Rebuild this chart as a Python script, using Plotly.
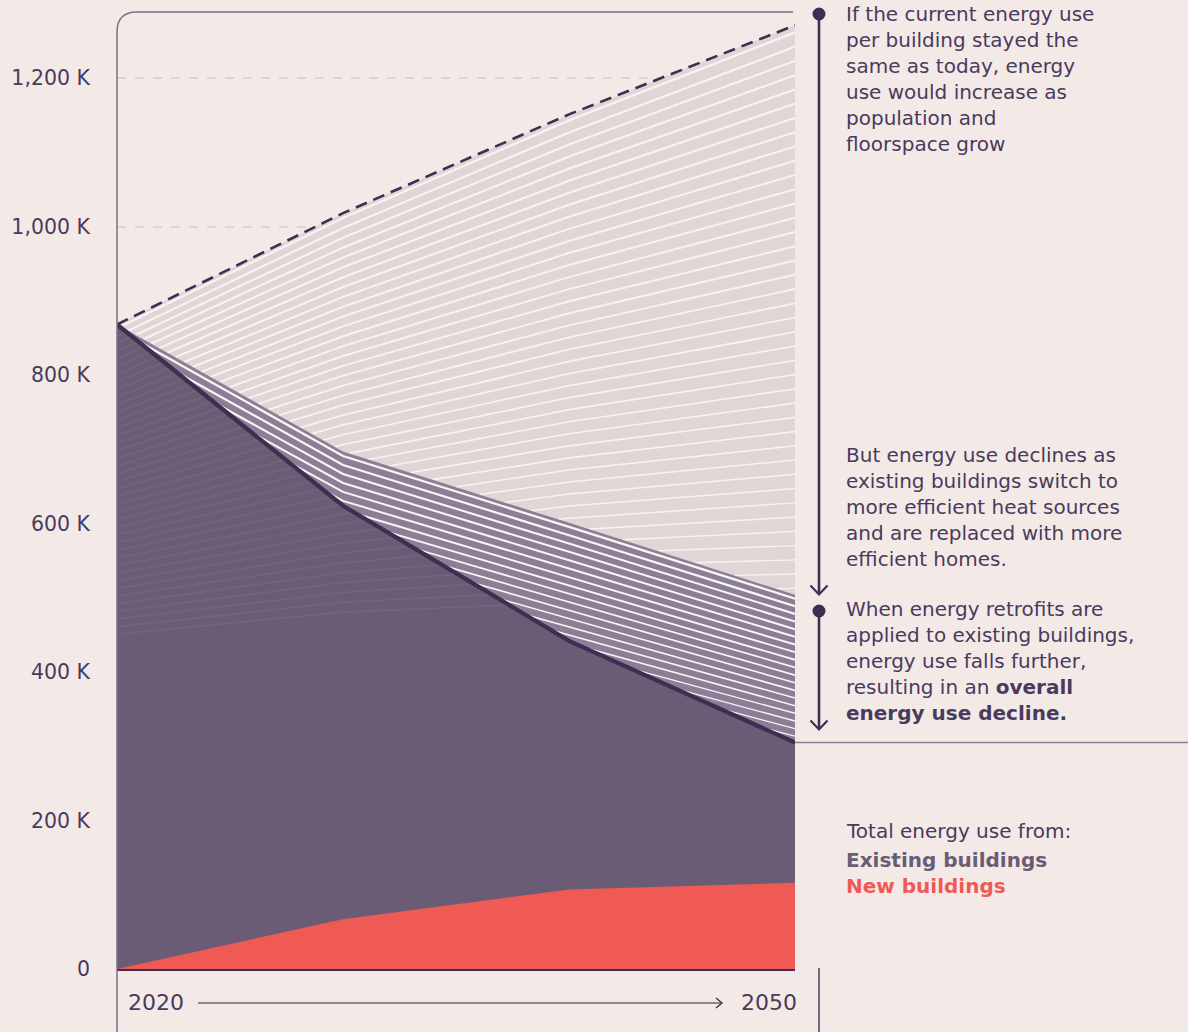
import plotly.graph_objects as go

# ---------------- data (thousands of energy units) ----------------
years = [2020, 2030, 2040, 2050]
bau = [868, 1018, 1151, 1271]            # current energy use per building kept
no_retrofit = [868, 697, 601, 504]       # efficient heat + replacement
total = [868, 624, 442, 305]             # with retrofits (overall)
new_buildings = [0, 67, 107, 116]        # new buildings share

ytick_vals = [0, 200, 400, 600, 800, 1000, 1200]
ytick_text = ["0", "200 K", "400 K", "600 K", "800 K", "1,000 K", "1,200 K"]

# ---------------- style ----------------
BG = "#f3eae8"
LIGHT = "#e0d6d5"
BAND = "#8a7f96"
DARK = "#6a5c74"
RED = "#f05a55"
INK = "#3f2d52"
TXT = "#4a3a5c"
FONT = "DejaVu Sans"

# pixel frame of the plot area
L_PX, R_PX, T_PX, B_PX = 117, 795, 12, 969
W, H = 1188, 1032
PLOT_W = R_PX - L_PX
PLOT_H = B_PX - T_PX
Y_MAX = PLOT_H / 0.7425


def px_x(px):
    return (px - L_PX) / PLOT_W


def px_y(py):
    return (B_PX - py) / PLOT_H


def lerp_years(a, b):
    return [a + (b - a) * (t - years[0]) / (years[-1] - years[0]) for t in years]


def clip(line, bound, keep_above):
    """Portions of a piecewise-linear line above/below a piecewise-linear bound."""
    xs_out, ys_out, cur = [], [], []

    def flush():
        if len(cur) >= 2:
            xs_out.extend([p[0] for p in cur] + [None])
            ys_out.extend([p[1] for p in cur] + [None])

    for i in range(len(years) - 1):
        x0, x1 = years[i], years[i + 1]
        y0, y1 = line[i], line[i + 1]
        d0, d1 = line[i] - bound[i], line[i + 1] - bound[i + 1]
        if not keep_above:
            d0, d1 = -d0, -d1
        pts = None
        if d0 >= 0 and d1 >= 0:
            pts = [(x0, y0), (x1, y1)]
        elif d0 >= 0 > d1:
            f = d0 / (d0 - d1)
            pts = [(x0, y0), (x0 + f * (x1 - x0), y0 + f * (y1 - y0))]
        elif d0 < 0 <= d1:
            f = d0 / (d0 - d1)
            pts = [(x0 + f * (x1 - x0), y0 + f * (y1 - y0)), (x1, y1)]
        if pts:
            if cur and abs(cur[-1][0] - pts[0][0]) < 1e-9:
                cur.append(pts[1])
            else:
                flush()
                cur = list(pts)
        else:
            flush()
            cur = []
    flush()
    return xs_out, ys_out


fig = go.Figure()

# light region between BAU and the no-retrofit path
fig.add_trace(go.Scatter(
    x=years + years[::-1], y=bau + no_retrofit[::-1], fill="toself",
    fillcolor=LIGHT, line=dict(width=0), mode="lines", hoverinfo="skip"))

# hatch family following the BAU line
N_LIGHT = 41
spacing = lerp_years(10.3, 19.2)
family = []
for k in range(1, N_LIGHT + 1):
    fam = [b - (k - 0.5) * s for b, s in zip(bau, spacing)]
    family.append(fam)
    xs, ys = clip(fam, no_retrofit, True)
    if xs:
        fig.add_trace(go.Scatter(
            x=xs, y=ys, mode="lines", hoverinfo="skip",
            line=dict(color="#f8f2f1", width=2.3 - 1.0 * k / N_LIGHT)))

# band between no-retrofit and total
fig.add_trace(go.Scatter(
    x=years + years[::-1], y=no_retrofit + total[::-1], fill="toself",
    fillcolor=BAND, line=dict(width=0), mode="lines", hoverinfo="skip"))

N_BAND = 20
band_spacing = lerp_years(13.0, 10.3)
for j in range(1, N_BAND + 1):
    bl = [n - (j - 0.5) * s for n, s in zip(no_retrofit, band_spacing)]
    xs, ys = clip(bl, total, True)
    if xs:
        fig.add_trace(go.Scatter(
            x=xs, y=ys, mode="lines", hoverinfo="skip",
            line=dict(color="#fbf6f4", width=2.3 - 1.1 * j / N_BAND)))

# existing buildings (total down to zero)
fig.add_trace(go.Scatter(
    x=years + years[::-1], y=total + [0] * len(years), fill="toself",
    fillcolor=DARK, line=dict(width=0), mode="lines", hoverinfo="skip"))

for fam in family:
    xs, ys = clip(fam, total, False)
    if xs:
        fig.add_trace(go.Scatter(
            x=xs, y=ys, mode="lines", hoverinfo="skip",
            line=dict(color="rgba(255,255,255,0.05)", width=1.6)))

# new buildings
fig.add_trace(go.Scatter(
    x=years, y=new_buildings, fill="tozeroy", fillcolor=RED,
    line=dict(width=0, color=RED), mode="lines", hoverinfo="skip"))

# total line
fig.add_trace(go.Scatter(
    x=years, y=total, mode="lines", hoverinfo="skip",
    line=dict(color=INK, width=4.2)))

# BAU dashed line
fig.add_trace(go.Scatter(
    x=years, y=bau, mode="lines", hoverinfo="skip",
    line=dict(color=INK, width=2.6, dash="12px,7px")))

# ---------------- shapes ----------------
shapes = []
frame_path = (f"M {px_x(117)},{px_y(1032)} L {px_x(117)},{px_y(32)} "
              f"Q {px_x(117)},{px_y(12)} {px_x(137)},{px_y(12)} L {px_x(793)},{px_y(12)}")
shapes.append(dict(type="path", xref="paper", yref="paper", path=frame_path,
                   line=dict(color="#7d6f8a", width=1.5), layer="above"))

AX = px_x(819)
# arrow 1
shapes.append(dict(type="line", xref="paper", yref="paper",
                   x0=AX, x1=AX, y0=px_y(14), y1=px_y(594),
                   line=dict(color=INK, width=2.6), layer="above"))
shapes.append(dict(type="path", xref="paper", yref="paper",
                   path=f"M {px_x(810.5)},{px_y(585.5)} L {AX},{px_y(594.5)} L {px_x(827.5)},{px_y(585.5)}",
                   line=dict(color=INK, width=2.2), layer="above"))
# arrow 2
shapes.append(dict(type="line", xref="paper", yref="paper",
                   x0=AX, x1=AX, y0=px_y(611), y1=px_y(729),
                   line=dict(color=INK, width=2.6), layer="above"))
shapes.append(dict(type="path", xref="paper", yref="paper",
                   path=f"M {px_x(810.5)},{px_y(720.5)} L {AX},{px_y(729.5)} L {px_x(827.5)},{px_y(720.5)}",
                   line=dict(color=INK, width=2.2), layer="above"))
# dots
for cy in (14, 611):
    shapes.append(dict(type="circle", xref="paper", yref="paper",
                       xsizemode="pixel", ysizemode="pixel",
                       xanchor=AX, yanchor=px_y(cy), x0=-6.5, x1=6.5, y0=-6.5, y1=6.5,
                       fillcolor=INK, line=dict(width=0), layer="above"))

# horizontal line at end value of the total path
shapes.append(dict(type="line", xref="paper", yref="y",
                   x0=1.0, x1=px_x(1188), y0=total[-1], y1=total[-1],
                   line=dict(color="#8a7f96", width=1.5), layer="above"))
# vertical line at bottom right of the axis
shapes.append(dict(type="line", xref="paper", yref="paper",
                   x0=AX, x1=AX, y0=px_y(968), y1=px_y(1032),
                   line=dict(color=TXT, width=1.5), layer="above"))
# time arrow
shapes.append(dict(type="line", xref="paper", yref="paper",
                   x0=px_x(198), x1=px_x(721), y0=px_y(1003), y1=px_y(1003),
                   line=dict(color="#6b666d", width=1.6), layer="above"))
shapes.append(dict(type="path", xref="paper", yref="paper",
                   path=f"M {px_x(716)},{px_y(998)} L {px_x(722)},{px_y(1003)} L {px_x(716)},{px_y(1008)}",
                   line=dict(color="#3a3540", width=1.4), layer="above"))

# ---------------- text ----------------
annotations = []
SIZE = 20
STEP = 1.3 * SIZE


def add_block(lines, first_center, color=TXT):
    first_center -= 0.3 * (len(lines) - 1)
    center = first_center + (len(lines) - 1) * STEP / 2
    annotations.append(dict(
        text="<br>".join(lines), xref="paper", yref="paper",
        x=px_x(845), y=px_y(center), xanchor="left", yanchor="middle",
        showarrow=False, align="left", borderpad=0,
        font=dict(family=FONT, size=SIZE, color=color)))


add_block(["If the current energy use", "per building stayed the", "same as today, energy",
           "use would increase as", "population and", "floorspace grow"], 15)
add_block(["But energy use declines as", "existing buildings switch to",
           "more efficient heat sources", "and are replaced with more", "efficient homes."], 456)
add_block(["When energy retrofits are", "applied to existing buildings,",
           "energy use falls further,", "resulting in an <b>overall</b>",
           "<b>energy use decline.</b>"], 610.5)
add_block(["Total energy use from:"], 831)
add_block([f"<b><span style='color:{DARK}'>Existing buildings</span></b>",
           f"<b><span style='color:{RED}'>New buildings</span></b>"], 860.5)

annotations.append(dict(text="2020", xref="paper", yref="paper", x=px_x(127), y=px_y(1002),
                        xanchor="left", yanchor="middle", showarrow=False, borderpad=0,
                        font=dict(family=FONT, size=22, color=TXT)))
annotations.append(dict(text="2050", xref="paper", yref="paper", x=px_x(798), y=px_y(1002),
                        xanchor="right", yanchor="middle", showarrow=False, borderpad=0,
                        font=dict(family=FONT, size=22, color=TXT)))

fig.update_layout(
    width=W, height=H, autosize=False,
    margin=dict(l=L_PX, r=W - R_PX, t=T_PX, b=H - B_PX, pad=0),
    paper_bgcolor=BG, plot_bgcolor=BG,
    showlegend=False, shapes=shapes, annotations=annotations,
    font=dict(family=FONT, color=TXT),
    xaxis=dict(range=[years[0], years[-1]], type="linear", showgrid=False, zeroline=False,
               showticklabels=False, showline=True, linecolor=INK, linewidth=2,
               fixedrange=True),
    yaxis=dict(range=[0, Y_MAX], tickvals=ytick_vals, ticktext=ytick_text,
               showgrid=True, gridcolor="#ded4d3", gridwidth=2, griddash="dash",
               zeroline=False, showline=False, ticks="", ticklabelstandoff=26,
               tickfont=dict(family=FONT, size=20.5, color=TXT), fixedrange=True),
)

fig.write_html("out.html", config={"displayModeBar": False},
               post_script="document.body.style.margin='0px';")
